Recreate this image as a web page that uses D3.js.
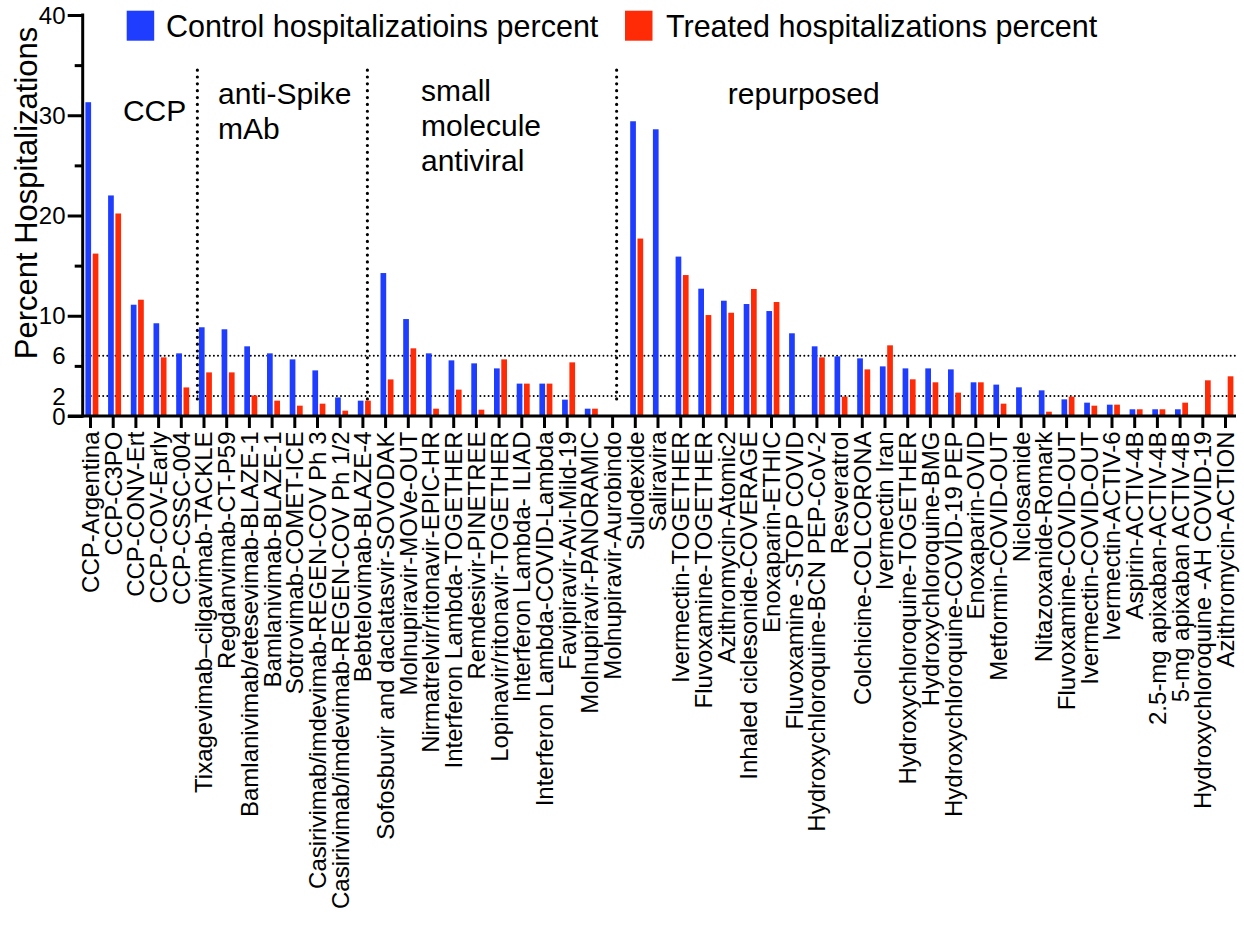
<!DOCTYPE html>
<html>
<head>
<meta charset="utf-8">
<script src="https://cdn.jsdelivr.net/npm/d3@7"></script>
<style>
  html, body { margin: 0; padding: 0; background: #fff; }
  svg text { font-family: "Liberation Sans", Arial, Helvetica, sans-serif; fill: #000; }
</style>
</head>
<body>
<svg id="chart" width="1244" height="932"></svg>
<script>
const categories = [
  "CCP-Argentina", "CCP-C3PO", "CCP-CONV-Ert", "CCP-COV-Early", "CCP-CSSC-004",
  "Tixagevimab\u2013cilgavimab-TACKLE", "Regdanvimab-CT-P59", "Bamlanivimab/etesevimab-BLAZE-1",
  "Bamlanivimab-BLAZE-1", "Sotrovimab-COMET-ICE", "Casirivimab/imdevimab-REGEN-COV Ph 3",
  "Casirivimab/imdevimab-REGEN-COV Ph 1/2", "Bebtelovimab-BLAZE-4",
  "Sofosbuvir and daclatasvir-SOVODAK", "Molnupiravir-MOVe-OUT", "Nirmatrelvir/ritonavir-EPIC-HR",
  "Interferon Lambda-TOGETHER", "Remdesivir-PINETREE", "Lopinavir/ritonavir-TOGETHER",
  "Interferon Lambda- ILIAD", "Interferon Lambda-COVID-Lambda", "Favipiravir-Avi-Mild-19",
  "Molnupiravir-PANORAMIC", "Molnupiravir-Aurobindo",
  "Sulodexide", "Saliravira", "Ivermectin-TOGETHER", "Fluvoxamine-TOGETHER", "Azithromycin-Atomic2",
  "Inhaled ciclesonide-COVERAGE", "Enoxaparin-ETHIC", "Fluvoxamine -STOP COVID",
  "Hydroxychloroquine-BCN PEP-CoV-2", "Resveratrol", "Colchicine-COLCORONA", "Ivermectin Iran",
  "Hydroxychloroquine-TOGETHER", "Hydroxychloroquine-BMG", "Hydroxychloroquine-COVID-19 PEP",
  "Enoxaparin-OVID", "Metformin-COVID-OUT", "Niclosamide", "Nitazoxanide-Romark",
  "Fluvoxamine-COVID-OUT", "Ivermectin-COVID-OUT", "Ivermectin-ACTIV-6", "Aspirin-ACTIV-4B",
  "2.5-mg apixaban-ACTIV-4B", "5-mg apixaban ACTIV-4B", "Hydroxychloroquine -AH COVID-19",
  "Azithromycin-ACTION"
];

const controlPct = [
  31.3, 22.0, 11.1, 9.25, 6.25,
  8.85, 8.65, 6.95, 6.25, 5.65, 4.55, 1.85, 1.53,
  14.26, 9.67, 6.25, 5.55, 5.25, 4.75, 3.23, 3.23, 1.63, 0.73, 0,
  29.4, 28.6, 15.9, 12.7, 11.5, 11.17, 10.47, 8.25, 6.95, 5.95, 5.75, 4.95,
  4.75, 4.75, 4.65, 3.36, 3.13, 2.86, 2.56, 1.66, 1.33, 1.13, 0.67, 0.67, 0.67, 0, 0
];

const treatedPct = [
  16.2, 20.2, 11.6, 5.85, 2.85,
  4.35, 4.35, 2.05, 1.53, 1.03, 1.23, 0.53, 1.53,
  3.65, 6.75, 0.73, 2.63, 0.63, 5.65, 3.23, 3.23, 5.35, 0.73, 0,
  17.7, 0, 14.06, 10.07, 10.3, 12.67, 11.37, 0, 5.85, 1.93, 4.65, 7.05,
  3.66, 3.36, 2.33, 3.36, 1.23, 0, 0.43, 1.93, 1.03, 1.13, 0.67, 0.67, 1.33, 3.56, 3.96
];

const seriesNames = ["Control hospitalizatioins percent", "Treated hospitalizations percent"];
const seriesColors = ["#1f3dfe", "#ff2a06"];

const yMajorTicks = [0, 10, 20, 30, 40];
const yMinorTicks = [5, 15, 25, 35];
const yTickLabels = [0, 2, 6, 10, 20, 30, 40];
const referenceLines = [2, 6];

const groupLabels = [
  ["CCP"],
  ["anti-Spike", "mAb"],
  ["small", "molecule", "antiviral"],
  ["repurposed"]
];
// group separators, in category-index units
const groupDividers = [4.73, 12.22, 23.2];

// ---------- layout ----------
const svg = d3.select("#chart");
const axisX0 = 82.7, axisY0 = 416;
const x = d3.scalePoint().domain(categories).range([90, 1225]);
const step = x.step();
const xi = d3.scaleLinear().domain([0, 1]).range([90, 90 + step]);
const y = d3.scaleLinear().domain([0, 40]).range([axisY0, 15]);

const barW = 5.7;
const data = categories.map((c, i) => ({ c, control: controlPct[i], treated: treatedPct[i] }));

// reference dotted lines
svg.append("g").selectAll("line").data(referenceLines).join("line")
  .attr("x1", axisX0).attr("x2", 1238)
  .attr("y1", d => y(d)).attr("y2", d => y(d))
  .attr("stroke", "#000").attr("stroke-width", 2)
  .attr("stroke-linecap", "round").attr("stroke-dasharray", "0 4.1");

// bars
const gBars = svg.append("g");
gBars.selectAll("rect.ctl").data(data).join("rect").attr("class", "ctl")
  .attr("x", d => x(d.c) - 4.6).attr("width", barW)
  .attr("y", d => y(d.control)).attr("height", d => axisY0 - y(d.control))
  .attr("fill", seriesColors[0]);
gBars.selectAll("rect.trt").data(data).join("rect").attr("class", "trt")
  .attr("x", d => x(d.c) + 2.7).attr("width", barW)
  .attr("y", d => y(d.treated)).attr("height", d => axisY0 - y(d.treated))
  .attr("fill", seriesColors[1]);

// group dividers
svg.append("g").selectAll("line").data(groupDividers).join("line")
  .attr("x1", d => xi(d)).attr("x2", d => xi(d))
  .attr("y1", y(34.5)).attr("y2", y(1.6))
  .attr("stroke", "#000").attr("stroke-width", 3.2)
  .attr("stroke-linecap", "round").attr("stroke-dasharray", "0 6.85");

// group labels
const groupAnchors = [
  { i: 1.45, v: 29.45 },
  { i: 5.64, v: 31.15 },
  { i: 14.58, v: 31.4 },
  { i: 28.1, v: 31.15 }
];
groupLabels.forEach((lines, k) => {
  const t = svg.append("text")
    .attr("x", xi(groupAnchors[k].i)).attr("y", y(groupAnchors[k].v))
    .style("font-size", "30px");
  lines.forEach((ln, j) => {
    t.append("tspan").attr("x", xi(groupAnchors[k].i)).attr("dy", j === 0 ? 0 : 35).text(ln);
  });
});

// y axis: major ticks
const yAxisMajor = d3.axisLeft(y).tickValues(yMajorTicks).tickSize(15).tickFormat("");
const gyMaj = svg.append("g").attr("transform", `translate(${axisX0},0)`).call(yAxisMajor);
gyMaj.select(".domain").remove();
gyMaj.selectAll(".tick line").attr("stroke", "#000").attr("stroke-width", 3);

const yAxisMinor = d3.axisLeft(y).tickValues(yMinorTicks).tickSize(8).tickFormat("");
const gyMin = svg.append("g").attr("transform", `translate(${axisX0},0)`).call(yAxisMinor);
gyMin.select(".domain").remove();
gyMin.selectAll(".tick line").attr("stroke", "#000").attr("stroke-width", 3);

// y tick labels
svg.append("g").selectAll("text").data(yTickLabels).join("text")
  .attr("x", 65.5).attr("y", d => y(d)).attr("dy", "0.36em")
  .attr("text-anchor", "end").style("font-size", "24px")
  .text(d => d);

// y axis line
svg.append("line").attr("x1", axisX0).attr("x2", axisX0)
  .attr("y1", y(40) - 1.5).attr("y2", axisY0 + 1.5)
  .attr("stroke", "#000").attr("stroke-width", 3);

// x axis
const xAxis = d3.axisBottom(x).tickSize(12).tickSizeOuter(0);
const gx = svg.append("g").attr("transform", `translate(0,${axisY0})`).call(xAxis);
gx.select(".domain").remove();
gx.selectAll(".tick line").attr("stroke", "#000").attr("stroke-width", 3);
gx.selectAll(".tick text")
  .attr("transform", "rotate(-90)")
  .attr("x", -15.5).attr("y", 0).attr("dy", "0.35em")
  .attr("text-anchor", "end")
  .style("font-size", "24px").style("font-family", '"Liberation Sans", Arial, sans-serif')
  .attr("fill", "#000");

svg.append("line").attr("x1", 68).attr("x2", 1236)
  .attr("y1", axisY0).attr("y2", axisY0)
  .attr("stroke", "#000").attr("stroke-width", 3.2);

// y axis title
svg.append("text")
  .attr("transform", `translate(36.5,193) rotate(-90)`)
  .attr("text-anchor", "middle").style("font-size", "31px")
  .text("Percent Hospitalizations");

// legend
const legendItems = [
  { name: seriesNames[0], color: seriesColors[0], rx: 126.7, tx: 166 },
  { name: seriesNames[1], color: seriesColors[1], rx: 625, tx: 666 }
];
const lg = svg.append("g");
legendItems.forEach(it => {
  lg.append("rect").attr("x", it.rx).attr("y", 10.7).attr("width", 27.5).attr("height", 30)
    .attr("fill", it.color);
  lg.append("text").attr("x", it.tx).attr("y", 36.5).style("font-size", "30.5px").text(it.name);
});
</script>
</body>
</html>
